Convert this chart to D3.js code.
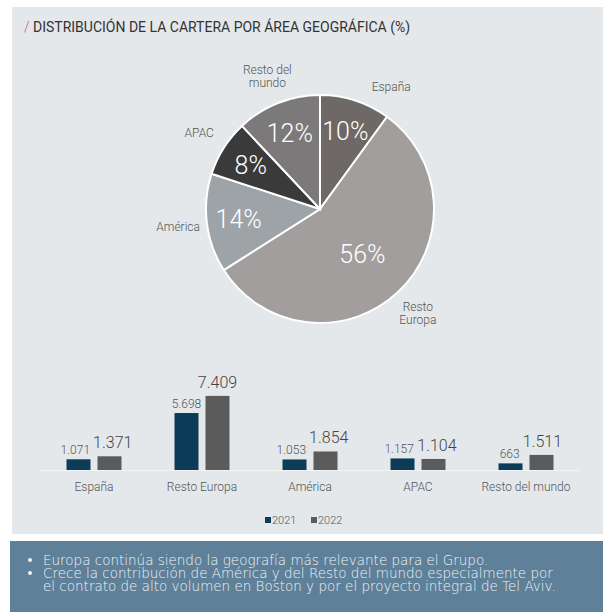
<!DOCTYPE html>
<html lang="es">
<head>
<meta charset="utf8">
<title>Distribución de la cartera</title>
<script src="https://cdn.jsdelivr.net/npm/d3@7"></script>
<style>
  body { margin: 0; background: #fff; }
  svg { display: block; font-family: Roboto, "Noto Sans", sans-serif; }
</style>
</head>
<body>
<svg id="chart" width="603" height="612"></svg>
<script>
// pie: share of the portfolio by region (%)
var pieNames = ['España', 'Resto Europa', 'América', 'APAC', 'Resto del mundo'];
var pieValues = [10, 56, 14, 8, 12];
var pieColors = ['#6e6967', '#a19e9d', '#9ea3a8', '#3a3a3a', '#7b7979'];

// bars: portfolio by region, 2021 vs 2022
var barCats = ['España', 'Resto Europa', 'América', 'APAC', 'Resto del mundo'];
var years = ['2021', '2022'];
var values2021 = [1071, 5698, 1053, 1157, 663];
var values2022 = [1371, 7409, 1854, 1104, 1511];
var yearColors = ['#0d3c58', '#5b5b5b'];

var notes = [
  ['Europa continúa siendo la geografía más relevante para el Grupo.'],
  ['Crece la contribución de América y del Resto del mundo especialmente por',
   'el contrato de alto volumen en Boston y por el proyecto integral de Tel Aviv.']
];

var fmt = function(v) { return d3.format(',')(v).replace(/,/g, '.'); };

var svg = d3.select('#chart');

// panels
svg.append('rect').attr('x', 12).attr('y', 7).attr('width', 591).attr('height', 527).attr('fill', '#e4e8eb');
svg.append('rect').attr('x', 10).attr('y', 541).attr('width', 593).attr('height', 71).attr('fill', '#5e8099');

// title
var title = svg.append('text').attr('x', 24).attr('y', 32)
  .style('font-size', '14px').attr('fill', '#333');
title.append('tspan').attr('fill', '#e0505c').style('font-weight', 300).text('/ ');
title.append('tspan').text('DISTRIBUCIÓN DE LA CARTERA POR ÁREA GEOGRÁFICA (%)');

// ---- pie ----
var cx = 320, cy = 209, r = 114;
var pie = d3.pie().sort(null).value(function(d) { return d; });
var arcs = pie(pieValues);
var arc = d3.arc().innerRadius(0).outerRadius(r);
var pg = svg.append('g').attr('transform', 'translate(' + cx + ',' + cy + ')');

pg.selectAll('path').data(arcs).enter().append('path')
  .attr('d', arc)
  .attr('fill', function(d, i) { return pieColors[i]; })
  .attr('stroke', '#fff').attr('stroke-width', 2);

var pctArc = d3.arc().innerRadius(82).outerRadius(82);
var bigArc = d3.arc().innerRadius(62).outerRadius(62);
pg.selectAll('text.pct').data(arcs).enter().append('text')
  .attr('class', 'pct')
  .attr('transform', function(d) {
    var c = (d.value > 40 ? bigArc : pctArc).centroid(d);
    return 'translate(' + c + ')';
  })
  .attr('text-anchor', 'middle').attr('dy', '0.36em')
  .style('font-size', '25px').style('font-weight', 300)
  .attr('fill', '#fff')
  .text(function(d) { return d.value + '%'; });

var nameArc = d3.arc().innerRadius(143).outerRadius(143);
var nameLines = {'Resto del mundo': ['Resto del', 'mundo'], 'Resto Europa': ['Resto', 'Europa']};
var nameNudge = {'España': [27, 14]};
pg.selectAll('text.name').data(arcs).enter().append('text')
  .attr('class', 'name')
  .attr('transform', function(d, i) {
    var c = nameArc.centroid(d);
    var n = nameNudge[pieNames[i]] || [0, 0];
    return 'translate(' + (c[0] + n[0]) + ',' + (c[1] + n[1]) + ')';
  })
  .attr('text-anchor', 'middle')
  .style('font-size', '12px').style('font-weight', 300).attr('fill', '#555')
  .each(function(d, i) {
    var lines = nameLines[pieNames[i]] || [pieNames[i]];
    var t = d3.select(this);
    lines.forEach(function(l, k) {
      t.append('tspan').attr('x', 0)
        .attr('dy', k == 0 ? (0.36 - (lines.length - 1) * 0.55) + 'em' : '1.1em')
        .text(l);
    });
  });

// ---- bars ----
var x0 = d3.scaleBand().domain(barCats).range([40, 580]);
var x1 = d3.scaleBand().domain(years).range([-27.5, 27.5]).paddingInner(0.226);
var y = d3.scaleLinear().domain([0, 8000]).range([470, 390]);

svg.append('line').attr('x1', 40).attr('x2', 580)
  .attr('y1', y(0) + 0.5).attr('y2', y(0) + 0.5)
  .attr('stroke', '#f3f4f5').attr('stroke-width', 1);

var series = [values2021, values2022];
var bg = svg.append('g');
var groups = bg.selectAll('g').data(barCats).enter().append('g')
  .attr('transform', function(d) { return 'translate(' + (x0(d) + x0.bandwidth() / 2) + ',0)'; });

groups.each(function(cat, ci) {
  var g = d3.select(this);
  var labels = [];
  years.forEach(function(yr, si) {
    var v = series[si][ci];
    g.append('rect')
      .attr('x', x1(yr)).attr('width', x1.bandwidth())
      .attr('y', y(v)).attr('height', y(0) - y(v))
      .attr('fill', yearColors[si]);
    var big = si == 1;
    var t = g.append('text')
      .attr('x', x1(yr) + x1.bandwidth() / 2)
      .attr('y', y(v) - (big ? 8 : 5))
      .attr('text-anchor', 'middle')
      .style('font-size', big ? '16px' : '12px')
      .style('font-weight', 300)
      .attr('fill', big ? '#444' : '#555')
      .text(fmt(v));
    labels.push(t);
  });
  // push the two value labels apart when they collide
  var ba = labels[0].node().getBBox(), bb = labels[1].node().getBBox();
  var vOver = ba.y < bb.y + bb.height && bb.y < ba.y + ba.height;
  var hOver = ba.x + ba.width + 3 - bb.x;
  if (vOver && hOver > 0) {
    labels[0].attr('x', +labels[0].attr('x') - hOver / 2);
    labels[1].attr('x', +labels[1].attr('x') + hOver / 2);
  }
});

var xAxis = svg.append('g').attr('transform', 'translate(0,' + y(0) + ')')
  .call(d3.axisBottom(x0).tickSize(0).tickPadding(12));
xAxis.select('.domain').remove();
xAxis.selectAll('text').style('font-size', '12px').style('font-family', 'Roboto, sans-serif')
  .style('font-weight', 300).attr('fill', '#555');

// legend
var leg = svg.append('g').attr('transform', 'translate(265,520)');
years.forEach(function(yr, i) {
  var lg = leg.append('g').attr('transform', 'translate(' + (i * 46) + ',0)');
  lg.append('rect').attr('x', 0).attr('y', -3).attr('width', 6).attr('height', 6).attr('fill', yearColors[i]);
  lg.append('text').attr('x', 7).attr('dy', '0.36em')
    .style('font-size', '11px').style('font-weight', 300).attr('fill', '#555').text(yr);
});

// notes box
var ny = 565;
notes.forEach(function(note) {
  svg.append('circle').attr('cx', 30).attr('cy', ny - 5).attr('r', 2).attr('fill', '#eef2f5');
  note.forEach(function(line) {
    svg.append('text').attr('x', 43).attr('y', ny)
      .style('font-family', '"DejaVu Sans", sans-serif')
      .style('font-size', '13.5px').style('font-weight', 200)
      .attr('fill', '#eef2f5').text(line);
    ny += 13.1;
  });
});
</script>
</body>
</html>
